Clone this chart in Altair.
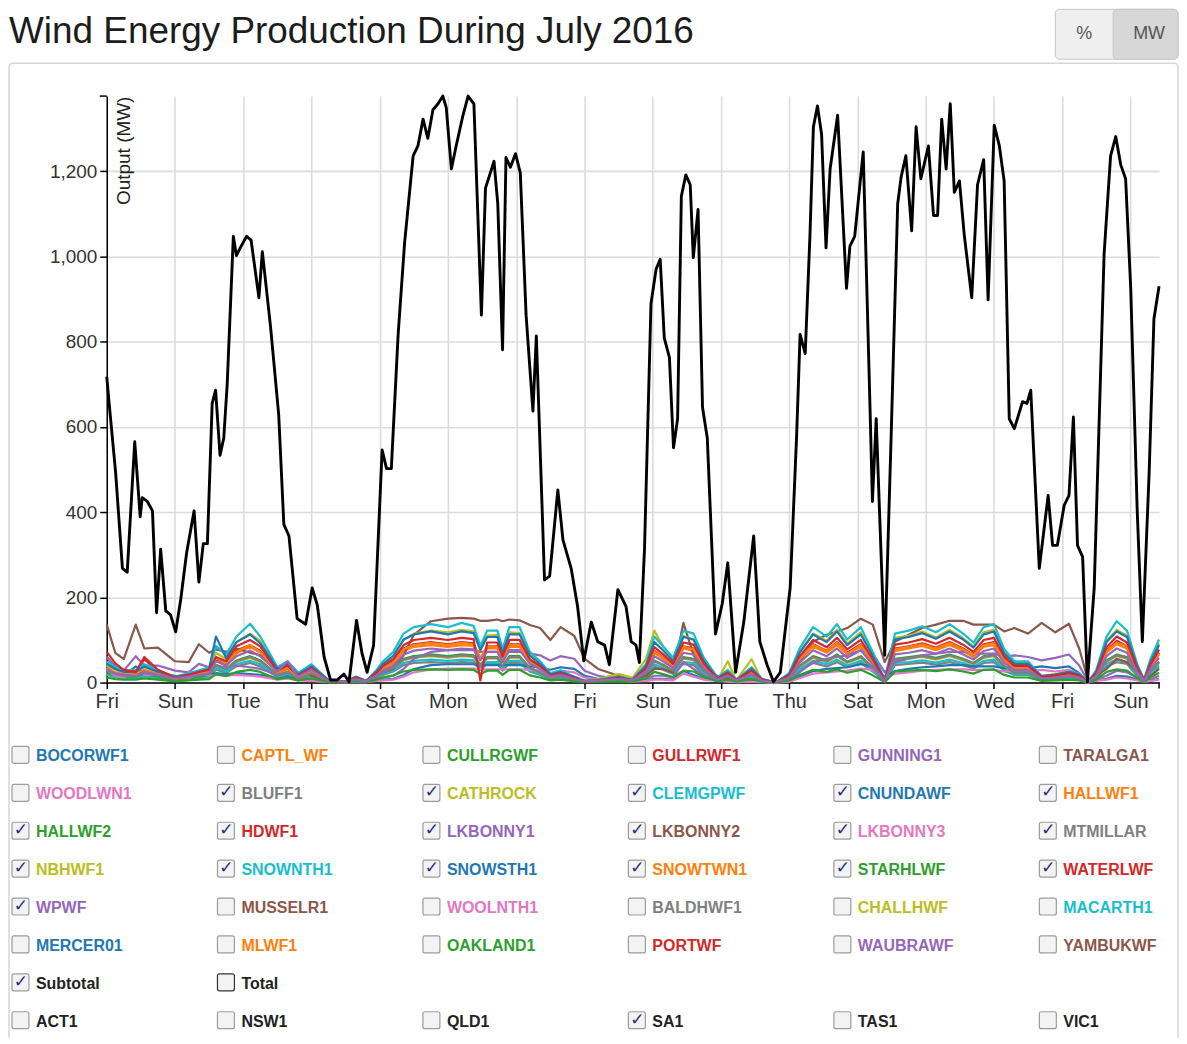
import altair as alt
import pandas as pd

# ---------------- data ----------------
DAY_NAMES = ["Fri", "Sat", "Sun", "Mon", "Tue", "Wed", "Thu"]
Y_TICKS = [0, 200, 400, 600, 800, 1000, 1200]
X_TICKS = list(range(0, 31, 2))
X_END = 30.84
Y_MAX = 1376

# Subtotal (black line): time in days since 1 July 2016, output in MW
SUB_T = [0.00, 0.07, 0.26, 0.46, 0.60, 0.82, 0.98, 1.04, 1.19, 1.34, 1.46, 1.58, 1.73, 1.87, 2.02, 2.17,
         2.34, 2.56, 2.70, 2.83, 2.95, 3.09, 3.19, 3.32, 3.43, 3.53, 3.71, 3.80, 3.94, 4.10, 4.23, 4.46,
         4.56, 4.80, 5.04, 5.19, 5.34, 5.58, 5.83, 6.02, 6.17, 6.37, 6.56, 6.75, 6.95, 7.10, 7.32, 7.48,
         7.63, 7.82, 8.07, 8.20, 8.34, 8.54, 8.73, 8.98, 9.12, 9.27, 9.41, 9.56, 9.71, 9.85, 9.95, 10.10,
         10.24, 10.44, 10.59, 10.76, 10.98, 11.10, 11.35, 11.46, 11.60, 11.70, 11.83, 11.98, 12.12, 12.29,
         12.49, 12.59, 12.83, 12.98, 13.22, 13.37, 13.61, 13.80, 13.98, 14.20, 14.39, 14.59, 14.73, 14.98,
         15.22, 15.37, 15.51, 15.61, 15.76, 15.95, 16.10, 16.22, 16.34, 16.49, 16.61, 16.73, 16.84, 16.97,
         17.10, 17.19, 17.33, 17.46, 17.60, 17.84, 18.04, 18.20, 18.43, 18.67, 18.96, 19.14, 19.35, 19.54,
         19.74, 20.03, 20.22, 20.32, 20.47, 20.61, 20.71, 20.83, 20.95, 21.08, 21.20, 21.42, 21.68, 21.78,
         21.92, 22.17, 22.36, 22.44, 22.55, 22.80, 22.99, 23.18, 23.28, 23.42, 23.59, 23.72, 23.86, 24.08,
         24.23, 24.35, 24.47, 24.60, 24.72, 24.84, 24.99, 25.13, 25.35, 25.52, 25.70, 25.83, 26.01, 26.16,
         26.30, 26.45, 26.60, 26.84, 26.97, 27.08, 27.33, 27.59, 27.72, 27.86, 28.06, 28.20, 28.33, 28.45,
         28.60, 28.74, 28.94, 29.23, 29.42, 29.57, 29.72, 29.86, 30.01, 30.20, 30.35, 30.55, 30.69, 30.84]
SUB_V = [718, 655, 493, 268, 259, 565, 389, 434, 425, 403, 164, 313, 168, 159, 119, 196,
         304, 403, 236, 326, 326, 655, 686, 533, 574, 700, 1047, 1002, 1024, 1047, 1038, 903,
         1011, 835, 628, 371, 344, 150, 137, 222, 182, 60, 6, 6, 20, 2, 146, 69,
         24, 87, 546, 502, 502, 817, 1033, 1236, 1259, 1322, 1277, 1344, 1358, 1376, 1349, 1205,
         1259, 1331, 1376, 1358, 862, 1160, 1223, 1123, 781, 1232, 1209, 1241, 1196, 862,
         637, 813, 241, 250, 452, 335, 268, 178, 51, 142, 96, 88, 42, 218,
         178, 96, 88, 47, 313, 889, 970, 993, 808, 763, 551, 619, 1141, 1191,
         1168, 997, 1110, 646, 574, 114, 186, 281, 24, 142, 344, 96, 42, 2,
         24, 223, 583, 817, 772, 1051, 1304, 1353, 1286, 1020, 1205, 1331, 925, 1024,
         1047, 1245, 673, 425, 619, 64, 583, 1123, 1186, 1236, 1060, 1304, 1182, 1259,
         1096, 1096, 1322, 1205, 1358, 1150, 1177, 1051, 903, 1168, 1227, 898, 1308, 1259,
         1177, 619, 596, 659, 655, 686, 268, 439, 322, 322, 416, 439, 623, 322,
         295, 2, 223, 1006, 1236, 1281, 1214, 1182, 925, 403, 96, 493, 853, 930]

# common time grid (days) for the individual wind farms
T = [0.0, 0.25, 0.5, 0.85, 1.1, 1.5, 2.0, 2.4, 2.7, 3.0,
     3.2, 3.5, 3.8, 4.2, 4.5, 4.8, 5.0, 5.3, 5.6, 6.0,
     6.5, 7.0, 7.3, 7.6, 7.9, 8.1, 8.4, 8.7, 9.0, 9.5,
     10.0, 10.4, 10.75, 10.95, 11.15, 11.45, 11.6, 11.8, 12.1, 12.4,
     12.7, 13.0, 13.3, 13.7, 14.0, 14.4, 15.0, 15.4, 15.8, 16.05,
     16.3, 16.6, 16.9, 17.2, 17.5, 17.9, 18.2, 18.45, 18.9, 19.2,
     19.6, 20.0, 20.3, 20.7, 21.1, 21.4, 21.7, 22.1, 22.45, 22.8,
     23.1, 23.5, 23.9, 24.3, 24.7, 25.1, 25.4, 25.7, 26.0, 26.3,
     26.6, 27.0, 27.4, 27.8, 28.2, 28.5, 28.75, 29.0, 29.3, 29.6,
     29.9, 30.2, 30.4, 30.6, 30.84]

BLUFF1 = [18, 13, 10, 10, 15, 10, 5, 8, 10, 13, 30, 23, 38, 46, 38, 23, 13, 18, 8, 15,
          2, 1, 5, 2, 10, 18, 26, 41, 46, 48, 46, 48, 47, 30, 44, 44, 28, 46, 46, 26,
          18, 8, 10, 5, 2, 3, 5, 3, 15, 38, 30, 20, 44, 41, 20, 4, 10, 3, 13, 3,
          0, 8, 28, 46, 38, 48, 36, 46, 26, 2, 41, 44, 47, 42, 48, 41, 33, 46, 48, 28,
          18, 18, 6, 8, 10, 8, 0, 10, 38, 48, 44, 15, 3, 20, 36]
CATHROCK = [22, 16, 13, 13, 20, 13, 7, 10, 13, 16, 38, 30, 48, 58, 48, 30, 16, 22, 10, 20,
            3, 1, 6, 2, 13, 22, 32, 52, 58, 62, 58, 62, 60, 40, 56, 56, 36, 58, 58, 32,
            22, 10, 13, 7, 2, 8, 20, 12, 25, 50, 42, 28, 56, 52, 26, 6, 50, 5, 55, 4,
            0, 10, 36, 58, 48, 62, 46, 58, 32, 3, 52, 56, 60, 54, 62, 52, 42, 58, 62, 36,
            22, 22, 8, 10, 13, 10, 0, 13, 48, 62, 56, 20, 3, 26, 46]
CLEMGPWF = [20, 14, 11, 11, 17, 11, 6, 9, 11, 14, 34, 26, 43, 51, 43, 26, 14, 20, 9, 17,
            2, 1, 6, 2, 11, 20, 28, 46, 51, 54, 51, 54, 52, 34, 48, 48, 31, 51, 51, 28,
            20, 9, 11, 6, 2, 3, 6, 3, 17, 43, 34, 23, 48, 46, 23, 5, 11, 3, 14, 3,
            0, 9, 31, 51, 43, 54, 40, 51, 28, 2, 46, 48, 52, 47, 54, 46, 37, 51, 54, 31,
            20, 20, 7, 9, 11, 9, 0, 11, 43, 54, 48, 17, 3, 23, 40]
CNUNDAWF = [38, 20, 16, 38, 22, 22, 16, 14, 25, 20, 22, 20, 22, 20, 18, 14, 9, 14, 7, 5,
            1, 1, 1, 1, 5, 7, 9, 18, 32, 41, 43, 43, 43, 41, 41, 41, 41, 41, 41, 38,
            36, 30, 36, 32, 16, 9, 5, 2, 5, 9, 9, 7, 27, 18, 9, 5, 2, 1, 2, 1,
            0, 2, 14, 27, 32, 34, 36, 43, 38, 14, 27, 32, 36, 38, 41, 41, 38, 38, 38, 34,
            36, 34, 38, 34, 38, 22, 2, 5, 9, 16, 14, 7, 2, 5, 9]
HALLWF1 = [30, 22, 18, 18, 26, 18, 9, 13, 18, 22, 52, 40, 68, 84, 70, 42, 22, 32, 13, 26,
           3, 2, 9, 3, 18, 32, 46, 74, 84, 88, 84, 88, 86, 56, 80, 80, 52, 84, 84, 46,
           32, 14, 18, 9, 3, 5, 9, 5, 28, 70, 56, 38, 80, 74, 38, 7, 18, 5, 23, 6,
           0, 14, 52, 84, 70, 88, 66, 84, 46, 4, 74, 80, 86, 76, 88, 74, 60, 84, 88, 52,
           32, 32, 11, 14, 18, 14, 0, 18, 70, 90, 80, 28, 5, 38, 66]
HALLWF2 = [24, 17, 14, 14, 21, 14, 7, 10, 14, 17, 42, 32, 52, 62, 52, 32, 17, 24, 10, 21,
           3, 1, 7, 2, 14, 24, 35, 56, 62, 66, 62, 66, 64, 42, 60, 60, 39, 62, 62, 35,
           24, 10, 14, 7, 2, 4, 7, 4, 21, 52, 42, 28, 60, 56, 28, 6, 14, 4, 18, 4,
           0, 10, 39, 62, 52, 66, 49, 62, 35, 3, 56, 60, 64, 58, 66, 56, 46, 62, 66, 39,
           24, 24, 8, 10, 14, 10, 0, 14, 52, 66, 60, 21, 4, 28, 49]
HDWF1 = [60, 38, 28, 22, 55, 26, 10, 14, 20, 26, 55, 44, 75, 88, 74, 44, 24, 34, 14, 30,
         4, 2, 10, 3, 20, 34, 50, 80, 90, 95, 90, 95, 92, 55, 85, 85, 55, 90, 90, 50,
         34, 15, 20, 10, 3, 5, 10, 5, 30, 75, 60, 40, 85, 80, 40, 8, 20, 5, 25, 6,
         0, 15, 55, 90, 75, 95, 70, 90, 50, 4, 80, 85, 92, 82, 95, 80, 65, 90, 95, 55,
         35, 35, 12, 15, 20, 15, 0, 20, 75, 98, 85, 30, 5, 40, 70]
LKBONNY1 = [60, 36, 28, 62, 40, 40, 28, 24, 44, 36, 40, 36, 40, 36, 32, 24, 16, 24, 12, 8,
            2, 2, 2, 2, 8, 12, 16, 32, 56, 72, 76, 76, 76, 72, 72, 72, 72, 72, 72, 68,
            64, 52, 62, 56, 28, 16, 8, 4, 8, 16, 16, 12, 48, 32, 16, 8, 4, 2, 4, 2,
            0, 4, 24, 48, 56, 60, 64, 76, 68, 24, 48, 56, 64, 68, 72, 72, 68, 68, 68, 60,
            64, 60, 52, 58, 66, 40, 4, 8, 16, 28, 24, 12, 4, 8, 16]
LKBONNY2 = [136, 70, 55, 136, 80, 82, 50, 48, 90, 70, 78, 72, 80, 70, 64, 48, 32, 48, 24, 16,
            5, 3, 5, 5, 16, 24, 32, 64, 112, 144, 150, 152, 150, 145, 145, 148, 144, 148, 146, 135,
            128, 100, 130, 110, 56, 32, 16, 8, 16, 32, 32, 24, 140, 64, 32, 16, 8, 5, 8, 3,
            0, 8, 48, 96, 112, 120, 128, 150, 136, 48, 96, 112, 128, 136, 145, 145, 136, 136, 136, 120,
            128, 115, 140, 118, 138, 80, 8, 16, 32, 56, 48, 24, 8, 16, 32]
LKBONNY3 = [30, 16, 12, 30, 18, 18, 12, 10, 20, 16, 18, 16, 18, 16, 14, 10, 7, 10, 5, 4,
            1, 1, 1, 1, 4, 5, 7, 14, 24, 31, 33, 33, 33, 31, 31, 31, 31, 31, 31, 30,
            28, 22, 28, 24, 12, 7, 4, 2, 4, 7, 7, 5, 21, 14, 7, 4, 2, 1, 2, 1,
            0, 2, 10, 21, 24, 26, 28, 33, 30, 10, 21, 24, 28, 30, 31, 31, 30, 30, 30, 26,
            28, 26, 30, 26, 30, 18, 2, 4, 7, 12, 10, 5, 2, 4, 7]
MTMILLAR = [28, 20, 16, 15, 22, 16, 8, 12, 16, 20, 40, 32, 50, 60, 50, 32, 18, 26, 10, 22,
            3, 1, 6, 2, 14, 24, 34, 54, 60, 64, 60, 64, 62, 40, 58, 58, 38, 60, 60, 34,
            24, 10, 14, 7, 2, 4, 8, 4, 22, 50, 40, 28, 58, 54, 28, 6, 16, 4, 18, 4,
            0, 10, 38, 60, 50, 64, 48, 60, 34, 3, 54, 58, 62, 56, 64, 54, 44, 60, 64, 38,
            24, 24, 8, 10, 14, 10, 0, 14, 50, 64, 58, 20, 3, 28, 48]
NBHWF1 = [40, 30, 22, 25, 36, 24, 12, 18, 22, 30, 70, 55, 95, 115, 98, 55, 30, 42, 18, 36,
          5, 2, 12, 4, 24, 42, 62, 100, 115, 122, 118, 124, 120, 80, 110, 112, 72, 118, 116, 66,
          46, 20, 26, 12, 4, 8, 20, 10, 55, 122, 85, 55, 110, 100, 52, 10, 30, 8, 35, 8,
          0, 20, 72, 115, 98, 124, 92, 118, 66, 5, 105, 110, 120, 106, 124, 104, 85, 118, 124, 72,
          46, 46, 16, 20, 26, 20, 0, 26, 98, 124, 110, 40, 6, 52, 92]
SNOWNTH1 = [50, 36, 29, 29, 43, 29, 14, 22, 29, 36, 86, 65, 108, 138, 108, 65, 36, 50, 22, 43,
            6, 3, 14, 4, 29, 50, 72, 115, 130, 137, 130, 140, 133, 86, 122, 122, 79, 130, 130, 72,
            50, 22, 29, 14, 4, 7, 14, 7, 43, 108, 86, 58, 122, 115, 58, 12, 29, 7, 36, 9,
            0, 22, 79, 130, 108, 137, 101, 130, 72, 6, 115, 122, 132, 118, 137, 115, 94, 130, 137, 79,
            50, 50, 14, 18, 25, 22, 0, 29, 108, 144, 122, 43, 7, 58, 101]
SNOWSTH1 = [44, 32, 25, 25, 38, 25, 13, 19, 25, 32, 108, 57, 95, 113, 92, 57, 32, 44, 19, 38,
            5, 3, 13, 4, 25, 44, 63, 101, 113, 120, 113, 120, 116, 76, 107, 107, 69, 113, 113, 63,
            44, 19, 25, 13, 4, 6, 13, 6, 38, 95, 76, 50, 107, 101, 50, 10, 25, 6, 32, 8,
            0, 19, 69, 113, 95, 120, 88, 113, 63, 5, 101, 107, 116, 103, 120, 101, 82, 113, 120, 69,
            44, 44, 15, 19, 25, 19, 0, 25, 95, 120, 107, 38, 6, 50, 88]
SNOWTWN1 = [34, 24, 20, 19, 30, 20, 10, 14, 20, 25, 58, 44, 72, 88, 72, 44, 24, 34, 14, 28,
            4, 2, 10, 3, 20, 34, 48, 78, 88, 93, 88, 93, 90, 58, 84, 84, 54, 88, 88, 48,
            34, 14, 20, 10, 3, 5, 10, 5, 30, 74, 58, 40, 84, 78, 40, 8, 20, 5, 24, 6,
            0, 14, 54, 88, 74, 93, 68, 88, 48, 4, 78, 84, 90, 80, 93, 78, 64, 88, 93, 54,
            34, 34, 12, 14, 20, 14, 0, 20, 74, 94, 84, 30, 5, 40, 68]
STARHLWF = [12, 8, 7, 7, 10, 7, 3, 5, 7, 8, 20, 15, 25, 30, 25, 15, 8, 12, 5, 10,
            1, 1, 3, 1, 7, 12, 17, 26, 30, 31, 30, 31, 30, 20, 28, 28, 18, 30, 30, 17,
            12, 5, 7, 3, 1, 2, 3, 2, 10, 25, 20, 13, 28, 26, 13, 3, 7, 2, 8, 2,
            0, 5, 18, 30, 25, 31, 23, 30, 17, 1, 26, 28, 30, 27, 31, 26, 21, 30, 31, 18,
            12, 12, 4, 5, 7, 5, 0, 7, 25, 31, 28, 10, 2, 13, 23]
WATERLWF = [72, 45, 30, 25, 60, 30, 12, 18, 25, 30, 60, 50, 85, 100, 85, 50, 28, 40, 16, 34,
            4, 2, 11, 3, 22, 39, 55, 88, 100, 105, 100, 105, 102, 5, 94, 94, 61, 100, 100, 55,
            39, 17, 22, 11, 3, 6, 11, 6, 33, 83, 67, 44, 94, 89, 44, 9, 22, 6, 28, 7,
            0, 17, 61, 100, 83, 105, 78, 100, 55, 4, 89, 94, 102, 91, 105, 89, 72, 100, 105, 61,
            39, 39, 13, 17, 22, 17, 0, 22, 83, 108, 94, 33, 6, 44, 78]
WPWF = [30, 22, 18, 16, 26, 18, 10, 14, 18, 22, 50, 40, 62, 75, 62, 40, 26, 50, 14, 30,
        4, 2, 8, 3, 16, 28, 40, 66, 75, 80, 76, 80, 78, 52, 72, 72, 48, 76, 76, 44,
        32, 14, 18, 9, 3, 5, 9, 5, 26, 62, 50, 34, 70, 66, 34, 7, 16, 5, 20, 5,
        0, 12, 46, 76, 62, 80, 58, 76, 42, 3, 66, 70, 76, 68, 80, 66, 54, 74, 80, 46,
        30, 30, 10, 12, 16, 12, 0, 16, 62, 80, 70, 25, 4, 34, 58]

SERIES = {
    "BLUFF1": BLUFF1, "CATHROCK": CATHROCK, "CLEMGPWF": CLEMGPWF, "CNUNDAWF": CNUNDAWF,
    "HALLWF1": HALLWF1, "HALLWF2": HALLWF2, "HDWF1": HDWF1, "LKBONNY1": LKBONNY1,
    "LKBONNY2": LKBONNY2, "LKBONNY3": LKBONNY3, "MTMILLAR": MTMILLAR, "NBHWF1": NBHWF1,
    "SNOWNTH1": SNOWNTH1, "SNOWSTH1": SNOWSTH1, "SNOWTWN1": SNOWTWN1, "STARHLWF": STARHLWF,
    "WATERLWF": WATERLWF, "WPWF": WPWF,
}

FARMS = ["BOCORWF1", "CAPTL_WF", "CULLRGWF", "GULLRWF1", "GUNNING1", "TARALGA1",
         "WOODLWN1", "BLUFF1", "CATHROCK", "CLEMGPWF", "CNUNDAWF", "HALLWF1",
         "HALLWF2", "HDWF1", "LKBONNY1", "LKBONNY2", "LKBONNY3", "MTMILLAR",
         "NBHWF1", "SNOWNTH1", "SNOWSTH1", "SNOWTWN1", "STARHLWF", "WATERLWF",
         "WPWF", "MUSSELR1", "WOOLNTH1", "BALDHWF1", "CHALLHWF", "MACARTH1",
         "MERCER01", "MLWF1", "OAKLAND1", "PORTWF", "WAUBRAWF", "YAMBUKWF"]
TOTAL_ITEMS = ["Subtotal", "Total"]
REGIONS = ["ACT1", "NSW1", "QLD1", "SA1", "TAS1", "VIC1"]
CHECKED = set(SERIES.keys()) | {"Subtotal", "SA1"}
PALETTE = ["#1f77b4", "#ff7f0e", "#2ca02c", "#d62728", "#9467bd",
           "#8c564b", "#e377c2", "#7f7f7f", "#bcbd22", "#17becf"]
FARM_COLOR = {f: PALETTE[i % 10] for i, f in enumerate(FARMS)}

TITLE = "Wind Energy Production During July 2016"
Y_TITLE = "Output (MW)"

assert len(SUB_T) == len(SUB_V)
for k, v in SERIES.items():
    assert len(v) == len(T), (k, len(v))

# ---------------- layout (pixels) ----------------
W, H = 1055, 588
PAD = {"left": 99, "top": 87, "right": 20, "bottom": 355}
OX, OY = 107, 95  # page position of plot origin

FONT = "Liberation Sans"

# ---------------- main plot ----------------
rows = []
for name, vals in SERIES.items():
    for t, v in zip(T, vals):
        rows.append({"t": t, "v": v, "series": name})
farm_df = pd.DataFrame(rows)
sub_df = pd.DataFrame({"t": SUB_T, "v": SUB_V})

label_expr = "[" + ",".join(f"'{d}'" for d in DAY_NAMES) + "][datum.value % 7]"

x_enc = alt.X("t:Q", scale=alt.Scale(domain=[0, X_END], nice=False, zero=False),
              axis=alt.Axis(values=X_TICKS, labelExpr=label_expr, title=None, grid=True,
                            gridColor="#dcdcdc", gridWidth=1.6, domainColor="#000",
                            domainWidth=1.5, tickColor="#000", tickWidth=1.5, tickSize=6,
                            labelFontSize=20, labelColor="#333", labelFont=FONT,
                            labelPadding=3, labelFlush=False, labelOverlap=False))
y_enc = alt.Y("v:Q", scale=alt.Scale(domain=[0, Y_MAX], nice=False),
              axis=alt.Axis(values=Y_TICKS, format=",.0f", title=Y_TITLE, grid=True,
                            gridColor="#dcdcdc", gridWidth=1.6, domainColor="#000",
                            domainWidth=1.5, tickColor="#000", tickWidth=1.5, tickSize=7,
                            labelFontSize=19, labelColor="#333", labelFont=FONT,
                            labelPadding=3,
                            titleAngle=270, titleX=8, titleY=0, titleAlign="right",
                            titleBaseline="top", titleFontSize=19, titleFontWeight="normal",
                            titleFont=FONT, titleColor="#222"))

farm_names = list(SERIES.keys())
colored = alt.Chart(farm_df).mark_line(strokeWidth=2.2, strokeJoin="round").encode(
    x=x_enc, y=y_enc,
    color=alt.Color("series:N", scale=alt.Scale(domain=farm_names,
                                                range=[FARM_COLOR[f] for f in farm_names]),
                    legend=None),
)
black = alt.Chart(sub_df).mark_line(color="#000", strokeWidth=2.9, strokeJoin="round").encode(
    x=x_enc, y=y_enc)
main = alt.layer(colored, black)


# ---------------- overlays (pixel positioned) ----------------
def PX(f):
    return alt.X(f"{f}:Q", scale=None, axis=None)


def PY(f):
    return alt.Y(f"{f}:Q", scale=None, axis=None)


panel_df = pd.DataFrame([{"x": 9 - OX, "x2": 1181 - OX, "y": 62 - OY, "y2": 1060 - OY}])
panel = alt.Chart(panel_df).mark_rect(fillOpacity=0, stroke="#d6d6d6", strokeWidth=1.5,
                                      cornerRadius=4).encode(
    x=PX("x"), x2="x2", y=PY("y"), y2="y2")

btn_df = pd.DataFrame([
    {"x": 1058 - OX, "x2": 1181 - OX, "y": 8 - OY, "y2": 58 - OY, "f": "#efefef"},
    {"x": 1116 - OX, "x2": 1181 - OX, "y": 8 - OY, "y2": 58 - OY, "f": "#d7d7d7"},
])
buttons = alt.Chart(btn_df).mark_rect(stroke="#c6c6c6", strokeWidth=1, cornerRadius=4).encode(
    x=PX("x"), x2="x2", y=PY("y"), y2="y2", fill=alt.Fill("f:N", scale=None))
btn_txt_df = pd.DataFrame([
    {"x": 1087 - OX, "y": 33 - OY, "s": "%"},
    {"x": 1152 - OX, "y": 33 - OY, "s": "MW"},
])
btn_text = alt.Chart(btn_txt_df).mark_text(fontSize=18, font=FONT, color="#555",
                                           align="center", baseline="middle").encode(
    x=PX("x"), y=PY("y"), text="s:N")

title_df = pd.DataFrame([{"x": 9 - OX, "y": 42 - OY, "s": TITLE}])
title = alt.Chart(title_df).mark_text(fontSize=37, font=FONT, color="#1c1c1c",
                                      align="left", baseline="alphabetic").encode(
    x=PX("x"), y=PY("y"), text="s:N")

ticks_df = pd.DataFrame([
    {"x": -7, "x2": 0, "y": 0, "y2": 0},
    {"x": W, "x2": W, "y": H, "y2": H + 6},
])
outer_ticks = alt.Chart(ticks_df).mark_rule(color="#000", strokeWidth=1.5).encode(
    x=PX("x"), x2="x2", y=PY("y"), y2="y2")

legend_rows = [FARMS[i:i + 6] for i in range(0, len(FARMS), 6)] + [TOTAL_ITEMS, REGIONS]
leg = []
for r, row in enumerate(legend_rows):
    for c, name in enumerate(row):
        bx = 12 + c * 206 - OX
        cy = 756 + r * 38 - OY
        leg.append({
            "bx": bx, "bx2": bx + 17, "by": cy - 9, "by2": cy + 8,
            "cx": bx + 9, "cy": cy - 1,
            "tx": bx + 24, "ty": cy + 1,
            "name": name,
            "col": FARM_COLOR.get(name, "#222222"),
            "stroke": "#333333" if name == "Total" else "#9c9c9c",
            "checked": name in CHECKED,
        })
leg_df = pd.DataFrame(leg)
boxes = alt.Chart(leg_df).mark_rect(fill="#f3f3f3", strokeWidth=1.2, cornerRadius=2).encode(
    x=PX("bx"), x2="bx2", y=PY("by"), y2="by2", stroke=alt.Stroke("stroke:N", scale=None))
checks = alt.Chart(leg_df[leg_df["checked"]]).transform_calculate(mark="'✓'").mark_text(
    fontSize=17, font="DejaVu Sans", fontWeight="bold", color="#1b2f86",
    align="center", baseline="middle").encode(
    x=PX("cx"), y=PY("cy"), text="mark:N")
labels = alt.Chart(leg_df).mark_text(fontSize=16, font=FONT, fontWeight="bold",
                                     align="left", baseline="middle").encode(
    x=PX("tx"), y=PY("ty"), text="name:N", color=alt.Color("col:N", scale=None))

chart = alt.layer(panel, main, outer_ticks, buttons, btn_text, title, boxes, checks, labels
                  ).resolve_scale(x="independent", y="independent", color="independent",
                                  stroke="independent", fill="independent"
                  ).properties(width=W, height=H,
                               autosize=alt.AutoSizeParams(type="none"),
                               padding=PAD, background="white"
                  ).configure_view(stroke=None)

chart.save("out.html", embed_options={"renderer": "svg", "actions": False})
